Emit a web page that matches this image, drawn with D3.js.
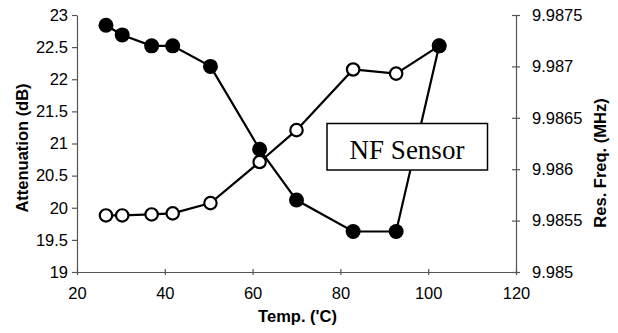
<!DOCTYPE html>
<html>
<head>
<meta charset="utf-8">
<script src="https://cdn.jsdelivr.net/npm/d3@7"></script>
<style>
  body { margin: 0; background: #fff; }
  text { font-family: "Liberation Sans", Arial, sans-serif; }
</style>
</head>
<body>
<div id="chart"></div>
<script>
// temperature (C) for each measurement
const temps = [26.6, 30.3, 37.0, 41.8, 50.4, 61.6, 70.0, 82.9, 92.7, 102.5];
// attenuation (dB), filled markers, left axis
const attenuation = [22.84, 22.69, 22.52, 22.52, 22.20, 20.91, 20.12, 19.63, 19.63, 22.52];
// resonant frequency (MHz), open markers, right axis
const resFreq = [9.98555, 9.98555, 9.98556, 9.98557, 9.98567, 9.98607, 9.98638, 9.98697, 9.98693, 9.98720];

const xTicks = [20, 40, 60, 80, 100, 120];
const leftTicks = [19, 19.5, 20, 20.5, 21, 21.5, 22, 22.5, 23];
const rightTicks = [9.985, 9.9855, 9.986, 9.9865, 9.987, 9.9875];

let width = 618, height = 333;
let margin = { top: 15, right: 102, bottom: 61, left: 77 };

let svg = d3.select("#chart").append("svg")
    .attr("width", width)
    .attr("height", height);

let x = d3.scaleLinear().domain([20, 120]).range([margin.left, width - margin.right]);
let yL = d3.scaleLinear().domain([19, 23]).range([height - margin.bottom, margin.top]);
let yR = d3.scaleLinear().domain([9.985, 9.9875]).range([height - margin.bottom, margin.top]);

let axisColor = "#555";

function styleAxis(g) {
    g.select(".domain").attr("stroke", axisColor).attr("stroke-width", 1.2);
    g.selectAll(".tick line").attr("stroke", axisColor).attr("stroke-width", 1.2);
    g.selectAll(".tick text").attr("fill", "#000").style("font-size", "16.5px")
        .style("font-family", "'Liberation Sans', Arial, sans-serif");
}

// x axis
let gX = svg.append("g")
    .attr("transform", "translate(0," + (height - margin.bottom) + ")")
    .call(d3.axisBottom(x).tickValues(xTicks).tickSize(3).tickSizeOuter(0).tickPadding(12))
    .call(styleAxis);
gX.selectAll(".tick line").attr("y1", -3);

// left axis
let gL = svg.append("g")
    .attr("transform", "translate(" + margin.left + ",0)")
    .call(d3.axisLeft(yL).tickValues(leftTicks).tickSize(5).tickSizeOuter(0).tickPadding(4)
        .tickFormat(d => String(d)))
    .call(styleAxis);

// right axis
let gR = svg.append("g")
    .attr("transform", "translate(" + (width - margin.right) + ",0)")
    .call(d3.axisRight(yR).tickValues(rightTicks).tickSize(4).tickSizeOuter(0).tickPadding(12)
        .tickFormat(d => String(d)))
    .call(styleAxis);
gR.selectAll(".tick line").attr("x1", -4);

// axis titles
svg.append("text")
    .attr("x", (margin.left + width - margin.right) / 2 + 1)
    .attr("y", 322)
    .attr("text-anchor", "middle")
    .style("font-weight", "bold")
    .style("font-size", "16.5px")
    .text("Temp. ('C)");

svg.append("text")
    .attr("transform", "translate(28,148) rotate(-90)")
    .attr("text-anchor", "middle")
    .style("font-weight", "bold")
    .style("font-size", "16.5px")
    .text("Attenuation (dB)");

svg.append("text")
    .attr("transform", "translate(606,163) rotate(-90)")
    .attr("text-anchor", "middle")
    .style("font-weight", "bold")
    .style("font-size", "16.5px")
    .text("Res. Freq. (MHz)");

// open series (resonant frequency)
let freqData = temps.map((t, i) => ({ t: t, v: resFreq[i] }));
let attData = temps.map((t, i) => ({ t: t, v: attenuation[i] }));

svg.append("path")
    .datum(freqData)
    .attr("fill", "none")
    .attr("stroke", "#000")
    .attr("stroke-width", 2.2)
    .attr("d", d3.line().x(d => x(d.t)).y(d => yR(d.v)));

svg.append("g")
    .selectAll("circle")
    .data(freqData)
    .enter().append("circle")
    .attr("cx", d => x(d.t))
    .attr("cy", d => yR(d.v))
    .attr("r", 6.2)
    .attr("fill", "#fff")
    .attr("stroke", "#000")
    .attr("stroke-width", 2.2);

// filled series (attenuation)
svg.append("path")
    .datum(attData)
    .attr("fill", "none")
    .attr("stroke", "#000")
    .attr("stroke-width", 2.2)
    .attr("d", d3.line().x(d => x(d.t)).y(d => yL(d.v)));

svg.append("g")
    .selectAll("circle")
    .data(attData)
    .enter().append("circle")
    .attr("cx", d => x(d.t))
    .attr("cy", d => yL(d.v))
    .attr("r", 7.5)
    .attr("fill", "#000");

// label box
svg.append("rect")
    .attr("x", 327)
    .attr("y", 123.5)
    .attr("width", 160.5)
    .attr("height", 46.5)
    .attr("fill", "#fff")
    .attr("stroke", "#000")
    .attr("stroke-width", 1.5);

svg.append("text")
    .attr("x", 407)
    .attr("y", 159)
    .attr("text-anchor", "middle")
    .style("font-family", "'Liberation Serif', 'Times New Roman', serif")
    .style("font-size", "27px")
    .text("NF Sensor");
</script>
</body>
</html>
